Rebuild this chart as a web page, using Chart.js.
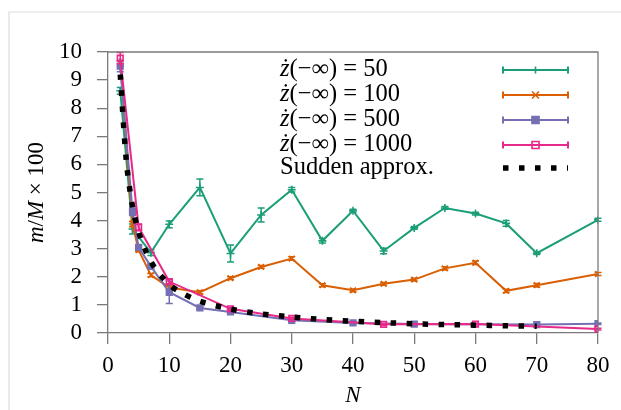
<!DOCTYPE html>
<html>
<head>
<meta charset="utf-8">
<script src="https://cdn.jsdelivr.net/npm/chart.js@4"></script>
<style>
  body { margin: 0; background: #fff; }
  canvas { display: block; }
</style>
</head>
<body>
<canvas id="grafica" width="621" height="410"></canvas>
<script>
// datos
const nVerde = [2, 4, 7, 10, 15, 20, 25, 30, 35, 40, 45, 50, 55, 60, 65, 70, 80];
const valVerde = [8.62, 3.7, 2.86, 3.87, 5.18, 2.83, 4.2, 5.1, 3.28, 4.35, 2.92, 3.74, 4.45, 4.25, 3.9, 2.84, 4.03];
const errVerde = [0.12, 0.18, 0.1, 0.12, 0.3, 0.3, 0.25, 0.08, 0.08, 0.05, 0.1, 0.05, 0.05, 0.05, 0.1, 0.05, 0.05];

const nNaranja = [2, 4, 5, 7, 10, 15, 20, 25, 30, 35, 40, 45, 50, 55, 60, 65, 70, 80];
const valNaranja = [9.6, 3.88, 2.95, 2.06, 1.62, 1.45, 1.95, 2.35, 2.65, 1.7, 1.52, 1.75, 1.9, 2.3, 2.5, 1.5, 1.7, 2.1];
const errNaranja = [0.1, 0.1, 0.06, 0.06, 0.06, 0.05, 0.05, 0.05, 0.06, 0.05, 0.05, 0.05, 0.05, 0.06, 0.06, 0.06, 0.06, 0.05];

const nMorado = [2, 4, 5, 7, 10, 15, 20, 30, 40, 50, 70, 80];
const valMorado = [9.5, 4.33, 3.05, 2.37, 1.45, 0.89, 0.75, 0.45, 0.36, 0.32, 0.3, 0.33];
const errMorado = [0.2, 0.15, 0.08, 0.05, 0.4, 0.04, 0.03, 0.03, 0.03, 0.03, 0.03, 0.03];

const nRosa = [2, 5, 10, 20, 30, 45, 60, 80];
const valRosa = [9.78, 3.76, 1.83, 0.86, 0.52, 0.31, 0.32, 0.14];
const errRosa = [0.2, 0.12, 0.08, 0.05, 0.04, 0.03, 0.03, 0.03];

const nSubita = [2, 3, 4, 5, 6, 7, 8, 9, 10, 12, 15, 20, 25, 30, 35, 40, 45, 50, 55, 60, 65, 70];
const valSubita = [9.2, 6.1, 4.5, 3.6, 3.0, 2.55, 2.2, 1.95, 1.72, 1.43, 1.13, 0.85, 0.68, 0.57, 0.48, 0.42, 0.37, 0.33, 0.3, 0.28, 0.26, 0.24];

const ticksX = [0, 10, 20, 30, 40, 50, 60, 70, 80];
const ticksY = [0, 1, 2, 3, 4, 5, 6, 7, 8, 9, 10];

const etiquetas = ["50", "100", "500", "1000"];
const FUENTE = "'Liberation Serif', 'DejaVu Serif', serif";
const TAM = 23;
const TAM_LEYENDA = 24.5;
const GRIS = "#7a7a7a";

function puntos(xs, ys) {
  return xs.map((x, i) => ({ x: x, y: ys[i] }));
}

function serie(nombre, xs, ys, errs, color, estilo, orden, relleno) {
  return {
    label: nombre,
    data: puntos(xs, ys),
    errores: errs,
    borderColor: color,
    backgroundColor: relleno,
    borderWidth: 2,
    pointStyle: estilo,
    pointRadius: 4,
    pointBorderWidth: 1.6,
    pointBorderColor: color,
    pointBackgroundColor: relleno,
    tension: 0,
    order: orden,
  };
}

const datasets = [
  serie("50", nVerde, valVerde, errVerde, "#1b9e77", "cross", 4, "#1b9e77"),
  serie("100", nNaranja, valNaranja, errNaranja, "#d95f02", "crossRot", 3, "#d95f02"),
  serie("500", nMorado, valMorado, errMorado, "#7570b3", "rect", 2, "#7570b3"),
  serie("1000", nRosa, valRosa, errRosa, "#e7298a", "rect", 1, "rgba(0,0,0,0)"),
  {
    label: "Sudden approx.",
    data: puntos(nSubita, valSubita),
    borderColor: "#000",
    borderWidth: 5.5,
    borderDash: [5.5, 10.5],
    borderCapStyle: "butt",
    pointRadius: 0,
    tension: 0.3,
    order: 0,
  },
];

// barras de error dibujadas con las escalas del grafico
const barrasError = {
  id: "barrasError",
  afterDatasetDraw(chart, args) {
    const ds = chart.data.datasets[args.index];
    if (!ds.errores) return;
    const ctx = chart.ctx;
    const sx = chart.scales.x;
    const sy = chart.scales.y;
    ctx.save();
    ctx.strokeStyle = ds.borderColor;
    ctx.lineWidth = 1.5;
    ds.data.forEach((p, i) => {
      const e = ds.errores[i];
      const x = sx.getPixelForValue(p.x);
      const y1 = sy.getPixelForValue(p.y - e);
      const y2 = sy.getPixelForValue(p.y + e);
      ctx.beginPath();
      ctx.moveTo(x, y1);
      ctx.lineTo(x, y2);
      ctx.moveTo(x - 3.5, y1);
      ctx.lineTo(x + 3.5, y1);
      ctx.moveTo(x - 3.5, y2);
      ctx.lineTo(x + 3.5, y2);
      ctx.stroke();
    });
    ctx.restore();
  },
};

// texto con partes en cursiva (como en LaTeX)
function fuente(cursiva, tam) {
  return (cursiva ? "italic " : "") + tam + "px " + FUENTE;
}

function anchoPartes(ctx, partes, tam) {
  let ancho = 0;
  partes.forEach((p) => {
    ctx.font = fuente(p[1], tam);
    ancho += ctx.measureText(p[0]).width;
  });
  return ancho;
}

function textoPartes(ctx, partes, x, y, tam) {
  let cx = x;
  partes.forEach((p) => {
    ctx.font = fuente(p[1], tam);
    ctx.fillText(p[0], cx, y);
    cx += ctx.measureText(p[0]).width;
  });
}

const decoracion = {
  id: "decoracion",
  beforeDraw(chart) {
    const ctx = chart.ctx;
    ctx.save();
    ctx.strokeStyle = "#dddddd";
    ctx.lineWidth = 1.2;
    ctx.beginPath();
    ctx.moveTo(9, 410);
    ctx.lineTo(9, 12);
    ctx.lineTo(621, 12);
    ctx.stroke();
    ctx.restore();
  },
  afterDraw(chart) {
    const ctx = chart.ctx;
    const a = chart.chartArea;
    ctx.save();
    ctx.strokeStyle = GRIS;
    ctx.lineWidth = 1.3;
    ctx.beginPath();
    ctx.moveTo(a.left, a.top);
    ctx.lineTo(a.right, a.top);
    ctx.lineTo(a.right, a.bottom);
    ctx.stroke();

    // leyenda
    ctx.fillStyle = "#000";
    ctx.textBaseline = "middle";
    const filas = [70, 95, 120, 145, 168];
    const x0 = 503, x1 = 568, xm = 535.5;
    chart.data.datasets.forEach((ds, i) => {
      const y = filas[i];
      if (ds.errores) {
        textoPartes(ctx, [["ż", true], ["(−∞) = " + etiquetas[i], false]], 280, y, TAM_LEYENDA);
        ctx.strokeStyle = ds.borderColor;
        ctx.lineWidth = 2;
        ctx.beginPath();
        ctx.moveTo(x0, y);
        ctx.lineTo(x1, y);
        ctx.moveTo(x0, y - 3.5);
        ctx.lineTo(x0, y + 3.5);
        ctx.moveTo(x1, y - 3.5);
        ctx.lineTo(x1, y + 3.5);
        ctx.stroke();
        ctx.lineWidth = 1.6;
        const r = 3.5;
        ctx.beginPath();
        if (ds.pointStyle === "cross") {
          ctx.moveTo(xm, y - r);
          ctx.lineTo(xm, y + r);
        } else if (ds.pointStyle === "crossRot") {
          ctx.moveTo(xm - r, y - r);
          ctx.lineTo(xm + r, y + r);
          ctx.moveTo(xm - r, y + r);
          ctx.lineTo(xm + r, y - r);
        } else {
          ctx.rect(xm - r, y - r, 2 * r, 2 * r);
          if (ds.pointBackgroundColor !== "rgba(0,0,0,0)") {
            ctx.fillStyle = ds.borderColor;
            ctx.fillRect(xm - r, y - r, 2 * r, 2 * r);
            ctx.fillStyle = "#000";
          }
        }
        ctx.stroke();
      } else {
        textoPartes(ctx, [["Sudden approx.", false]], 280, y, TAM_LEYENDA);
        ctx.strokeStyle = "#000";
        ctx.lineWidth = 5.5;
        ctx.setLineDash([5.5, 10.5]);
        ctx.beginPath();
        ctx.moveTo(x0, y);
        ctx.lineTo(x1, y);
        ctx.stroke();
        ctx.setLineDash([]);
      }
    });

    // titulo eje y
    const partesY = [["m", true], ["/", false], ["M", true], [" × 100", false]];
    ctx.translate(37, (a.top + a.bottom) / 2);
    ctx.rotate(-Math.PI / 2);
    const w = anchoPartes(ctx, partesY, TAM);
    textoPartes(ctx, partesY, -w / 2, 0, TAM);
    ctx.restore();
  },
};

new Chart(document.getElementById("grafica"), {
  type: "line",
  data: { datasets: datasets },
  plugins: [barrasError, decoracion],
  options: {
    responsive: false,
    animation: false,
    layout: { padding: { left: 0, right: 23, top: 52, bottom: 0 } },
    plugins: { legend: { display: false }, tooltip: { enabled: false } },
    scales: {
      x: {
        type: "linear",
        min: 0,
        max: 80,
        afterBuildTicks: (eje) => {
          eje.ticks = ticksX.map((v) => ({ value: v }));
        },
        afterFit: (eje) => {
          eje.height = 77;
        },
        grid: { drawOnChartArea: false, color: GRIS, lineWidth: 1.3, tickLength: 11 },
        border: { color: GRIS, width: 1.3 },
        ticks: { color: "#000", padding: 8, autoSkip: false, maxRotation: 0, font: { family: FUENTE, size: TAM } },
        title: {
          display: true,
          text: "N",
          color: "#000",
          padding: { top: 6, bottom: 0 },
          font: { family: FUENTE, size: TAM, style: "italic" },
        },
      },
      y: {
        min: 0,
        max: 10,
        afterBuildTicks: (eje) => {
          eje.ticks = ticksY.map((v) => ({ value: v }));
        },
        afterFit: (eje) => {
          eje.width = 108;
        },
        grid: { drawOnChartArea: false, color: GRIS, lineWidth: 1.3, tickLength: 11 },
        border: { color: GRIS, width: 1.3 },
        ticks: { color: "#000", padding: 15, autoSkip: false, font: { family: FUENTE, size: TAM } },
      },
    },
  },
});
</script>
</body>
</html>
